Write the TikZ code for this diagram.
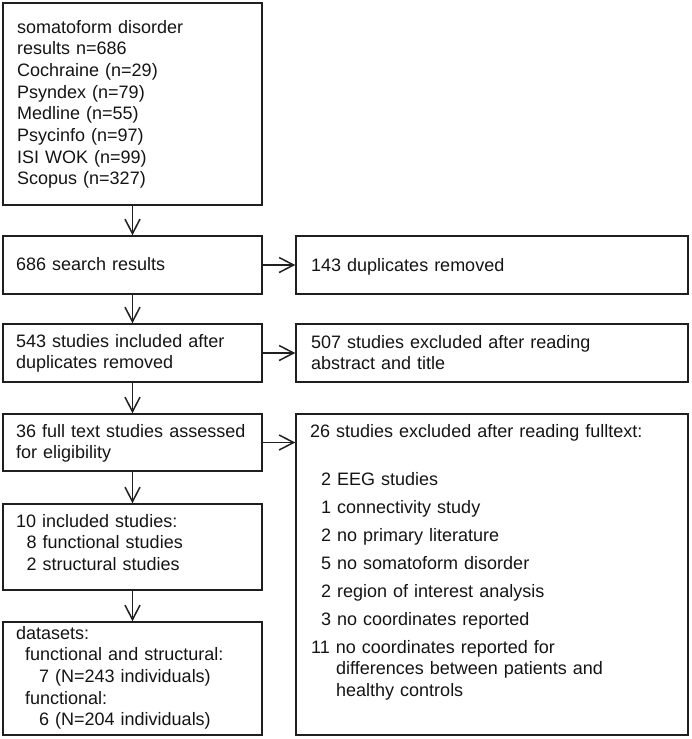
\documentclass[tikz,border=0pt]{standalone}
\usepackage{fontspec}
\setmainfont{Liberation Sans}
\usetikzlibrary{arrows.meta}
\newcommand{\fsz}{\fontsize{18pt}{21.7pt}\selectfont}
\begin{document}
\begin{tikzpicture}[x=1pt,y=-1pt,
  box/.style={draw=black!88, line width=1.5pt, inner sep=0pt, minimum width=259pt},
  rbox/.style={box, minimum width=392pt},
  txt/.style={anchor=base west, inner sep=0pt, text width=380pt, align=left, font=\fsz, text=black!92},
  arr/.style={line width=1.5pt, draw=black!88, -{Straight Barb[length=14.5pt,width=15pt]}}]
\useasboundingbox (0,0) rectangle (691,739);
% left column boxes
\node[box, minimum height=202pt] (b1) at (132.5,104) {};
\node[box, minimum height=58pt]  (b2) at (132.5,265) {};
\node[box, minimum height=58pt]  (b3) at (132.5,353) {};
\node[box, minimum height=57pt]  (b4) at (132.5,442.5) {};
\node[box, minimum height=86pt]  (b5) at (132.5,547) {};
\node[box, minimum height=113pt] (b6) at (132.5,678.5) {};
% right column boxes
\node[rbox, minimum height=58pt]  (r1) at (492,265) {};
\node[rbox, minimum height=58pt]  (r2) at (492,353) {};
\node[rbox, minimum height=321pt] (r3) at (492,574.5) {};
% texts left
\node[txt] (t1) at (17,33) {somatoform disorder\\results n=686\\Cochraine (n=29)\\Psyndex (n=79)\\Medline (n=55)\\Psycinfo (n=97)\\ISI WOK (n=99)\\Scopus (n=327)};
\node[txt] (t2) at (16,270) {686 search results};
\node[txt] (t3) at (16,347) {543 studies included after\\duplicates removed};
\node[txt] (t4) at (16,437) {36 full text studies assessed\\for eligibility};
\node[txt] (t5) at (16,527) {10 included studies:\\\hspace*{10.5pt}8 functional studies\\\hspace*{10.5pt}2 structural studies};
\node[txt] (t6) at (16,639) {datasets:\\\hspace*{9pt}functional and structural:\\\hspace*{23pt}7 (N=243 individuals)\\\hspace*{9pt}functional:\\\hspace*{23pt}6 (N=204 individuals)};
% texts right
\node[txt] (s1) at (311,271) {143 duplicates removed};
\node[txt] (s2) at (311,348) {507 studies excluded after reading\\abstract and title};
\node[txt] (s3) at (310,437) {26 studies excluded after reading fulltext:};
\node[txt] (i1) at (321,485) {2 EEG studies};
\node[txt] (i2) at (321,513) {1 connectivity study};
\node[txt] (i3) at (321,541) {2 no primary literature};
\node[txt] (i4) at (321,569) {5 no somatoform disorder};
\node[txt] (i5) at (321,597) {2 region of interest analysis};
\node[txt] (i6) at (321,625) {3 no coordinates reported};
\node[txt] (i7) at (311,653) {11 no coordinates reported for\\\hspace*{25pt}differences between patients and\\\hspace*{25pt}healthy controls};
% arrows
\draw[arr] (b1) -- (b2);
\draw[arr] (b2) -- (b3);
\draw[arr] (b3) -- (b4);
\draw[arr] (b4) -- (b5);
\draw[arr] (b5) -- (b6);
\draw[arr] (b2) -- (r1);
\draw[arr] (b3) -- (r2);
\draw[arr] (b4.east) -- (b4.east -| r3.west);
\end{tikzpicture}
\end{document}
